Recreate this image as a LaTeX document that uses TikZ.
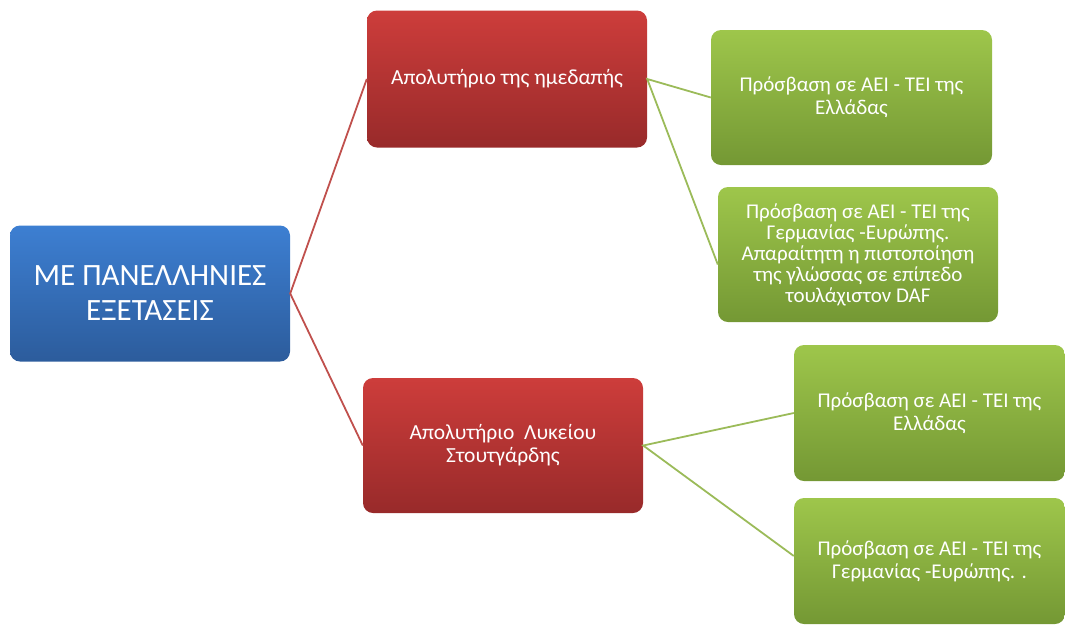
\documentclass[tikz,border=0pt]{standalone}
\usepackage{fontspec}
\setmainfont{Carlito}
\definecolor{bluetop}{HTML}{3D7FD2}
\definecolor{bluebot}{HTML}{2C5C9C}
\definecolor{redtop}{HTML}{CD3D3B}
\definecolor{redbot}{HTML}{982A2A}
\definecolor{greentop}{HTML}{9EC64B}
\definecolor{greenbot}{HTML}{749834}
\definecolor{redline}{HTML}{C0504D}
\definecolor{greenline}{HTML}{9BBB59}
\tikzset{
  box/.style={rounded corners=10pt, inner sep=0pt, align=center, text=white},
  rootbox/.style={box, top color=bluetop, bottom color=bluebot},
  redbox/.style={box, top color=redtop, bottom color=redbot, font=\fontsize{21.5}{23}\selectfont},
  greenbox/.style={box, top color=greentop, bottom color=greenbot, font=\fontsize{21}{23}\selectfont},
  redlink/.style={draw=redline, line width=1.8pt},
  greenlink/.style={draw=greenline, line width=1.8pt},
}
\begin{document}
\begin{tikzpicture}[x=1pt,y=-1pt]
\useasboundingbox (0,0) rectangle (1065,625);
\node[rootbox, minimum width=280pt, minimum height=136pt, font=\fontsize{31}{35}\selectfont] (root) at (150,293.5) {ΜΕ ΠΑΝΕΛΛΗΝΙΕΣ\\ΕΞΕΤΑΣΕΙΣ};
\node[redbox, minimum width=280pt, minimum height=137pt] (r1) at (507,79) {Απολυτήριο της ημεδαπής};
\node[redbox, minimum width=280pt, minimum height=135pt] (r2) at (503,445.5) {Απολυτήριο\ \ Λυκείου\\Στουτγάρδης};
\node[greenbox, minimum width=281pt, minimum height=135pt] (g1) at (851.5,97.5) {Πρόσβαση σε ΑΕΙ - ΤΕΙ της\\Ελλάδας};
\node[greenbox, minimum width=280pt, minimum height=135pt, font=\fontsize{21}{21}\selectfont] (g2) at (858,254.5) {Πρόσβαση σε ΑΕΙ - ΤΕΙ της\\Γερμανίας -Ευρώπης.\\Απαραίτητη η πιστοποίηση\\της γλώσσας σε επίπεδο\\τουλάχιστον DAF};
\node[greenbox, minimum width=271pt, minimum height=136pt] (g3) at (929.5,413) {Πρόσβαση σε ΑΕΙ - ΤΕΙ της\\Ελλάδας};
\node[greenbox, minimum width=271pt, minimum height=126pt] (g4) at (929.5,561) {Πρόσβαση σε ΑΕΙ - ΤΕΙ της\\Γερμανίας -Ευρώπης. .};
\draw[redlink] (r1.west) -- (root.east) -- (r2.west);
\draw[greenlink] (g1.west) -- (r1.east) -- ([yshift=-10pt]g2.west);
\draw[greenlink] (g3.west) -- (r2.east) -- ([yshift=5pt]g4.west);
\end{tikzpicture}
\end{document}
